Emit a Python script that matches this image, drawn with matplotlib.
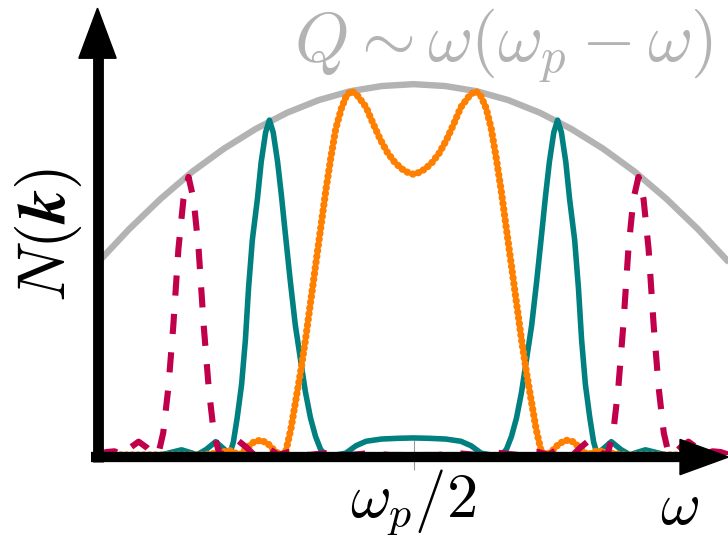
import matplotlib
matplotlib.use("Agg")
import matplotlib.pyplot as plt
from matplotlib.patches import Polygon

plt.rcParams['mathtext.fontset'] = 'cm'

# omega in units of omega_p, N(k) normalised to the top of Q
q_x = [0.0, 0.05, 0.1, 0.15, 0.2, 0.25, 0.3, 0.35, 0.4, 0.45, 0.5,
       0.55, 0.6, 0.65, 0.7, 0.75, 0.8, 0.85, 0.9, 0.95, 1.0]
q_y = [0.518, 0.609, 0.691, 0.764, 0.826, 0.879, 0.923, 0.957, 0.981, 0.995, 1.0,
       0.995, 0.981, 0.957, 0.923, 0.879, 0.826, 0.764, 0.691, 0.609, 0.518]

# narrow pair (dashed crimson)
red_x = [0.0, 0.014, 0.027, 0.040, 0.052, 0.065, 0.078, 0.089, 0.097, 0.104,
         0.112, 0.120, 0.128, 0.136, 0.144, 0.152, 0.160, 0.168, 0.176, 0.184,
         0.192, 0.199, 0.210, 0.223, 0.236, 0.248, 0.261, 0.274, 0.286, 0.302,
         0.318, 0.334, 0.367, 0.399, 0.430, 0.462, 0.5,
         0.538, 0.570, 0.601, 0.633, 0.666, 0.682, 0.698, 0.714, 0.726, 0.739,
         0.752, 0.764, 0.777, 0.790, 0.801, 0.808, 0.816, 0.824, 0.832, 0.840,
         0.848, 0.856, 0.864, 0.872, 0.880, 0.888, 0.896, 0.903, 0.911, 0.922,
         0.935, 0.948, 0.960, 0.973, 0.986, 1.0]
red_y = [0.0, 0.008, 0.010, 0.0, 0.020, 0.036, 0.020, 0.0, 0.008, 0.060,
         0.180, 0.350, 0.555, 0.690, 0.750, 0.690, 0.555, 0.350, 0.180, 0.060,
         0.008, 0.0, 0.020, 0.038, 0.020, 0.0, 0.012, 0.014, 0.0, 0.008,
         0.009, 0.0, 0.006, 0.0, 0.005, 0.0, 0.0,
         0.0, 0.005, 0.0, 0.006, 0.0, 0.009, 0.008, 0.0, 0.014, 0.012,
         0.0, 0.020, 0.038, 0.020, 0.0, 0.008, 0.060, 0.180, 0.350, 0.555,
         0.690, 0.750, 0.690, 0.555, 0.350, 0.180, 0.060, 0.008, 0.0, 0.020,
         0.036, 0.020, 0.0, 0.010, 0.008, 0.0]

# medium pair with plateau (solid teal)
teal_x = [0.0, 0.100, 0.114, 0.133, 0.150, 0.157, 0.172, 0.187, 0.201, 0.209,
          0.215, 0.221, 0.228, 0.234, 0.239, 0.245, 0.253, 0.259, 0.266, 0.272,
          0.278, 0.285, 0.291, 0.297, 0.305, 0.313, 0.321, 0.329, 0.337, 0.345,
          0.353, 0.361, 0.377, 0.393, 0.409, 0.425, 0.449, 0.475, 0.5,
          0.525, 0.551, 0.575, 0.591, 0.607, 0.623, 0.639, 0.647, 0.655, 0.663,
          0.671, 0.679, 0.687, 0.695, 0.703, 0.709, 0.715, 0.722, 0.728, 0.734,
          0.741, 0.747, 0.755, 0.761, 0.766, 0.772, 0.779, 0.785, 0.791, 0.799,
          0.813, 0.828, 0.843, 0.850, 0.867, 0.886, 0.900, 1.0]
teal_y = [0.0, 0.0, 0.006, 0.014, 0.005, 0.0, 0.015, 0.036, 0.015, 0.0,
          0.035, 0.10, 0.19, 0.31, 0.45, 0.58, 0.69, 0.79, 0.87, 0.903,
          0.87, 0.79, 0.70, 0.60, 0.47, 0.35, 0.26, 0.17, 0.10, 0.05,
          0.015, 0.0, 0.0, 0.005, 0.025, 0.037, 0.043, 0.045, 0.046,
          0.045, 0.043, 0.037, 0.025, 0.005, 0.0, 0.0, 0.015, 0.05, 0.10,
          0.17, 0.26, 0.35, 0.47, 0.60, 0.70, 0.79, 0.87, 0.903, 0.87,
          0.79, 0.69, 0.58, 0.45, 0.31, 0.19, 0.10, 0.035, 0.0, 0.015,
          0.036, 0.015, 0.0, 0.005, 0.014, 0.006, 0.0, 0.0]

# broad double-humped line (dotted orange)
orange_x = [0.0, 0.165, 0.189, 0.209, 0.225, 0.237, 0.248, 0.259, 0.270, 0.281,
            0.290, 0.298, 0.306, 0.313, 0.321, 0.329, 0.337, 0.345, 0.353, 0.361,
            0.369, 0.377, 0.386, 0.394, 0.402, 0.411, 0.425, 0.437, 0.448, 0.459,
            0.470, 0.481, 0.491, 0.5,
            0.509, 0.519, 0.530, 0.541, 0.552, 0.563, 0.575, 0.589, 0.598, 0.606,
            0.615, 0.623, 0.631, 0.639, 0.647, 0.655, 0.663, 0.671, 0.679, 0.687,
            0.694, 0.702, 0.710, 0.719, 0.730, 0.741, 0.752, 0.763, 0.775, 0.791,
            0.811, 0.835, 1.0]
orange_y = [0.0, 0.0, 0.005, 0.012, 0.0, 0.020, 0.036, 0.040, 0.030, 0.010,
            0.0, 0.010, 0.070, 0.140, 0.220, 0.310, 0.410, 0.510, 0.610, 0.710,
            0.800, 0.880, 0.935, 0.970, 0.982, 0.970, 0.938, 0.890, 0.849, 0.815,
            0.790, 0.772, 0.762, 0.757,
            0.762, 0.772, 0.790, 0.815, 0.849, 0.890, 0.938, 0.970, 0.982, 0.970,
            0.935, 0.880, 0.800, 0.710, 0.610, 0.510, 0.410, 0.310, 0.220, 0.140,
            0.070, 0.010, 0.0, 0.010, 0.030, 0.040, 0.036, 0.020, 0.0, 0.012,
            0.005, 0.0, 0.0]

q_label = r'$Q\sim\omega(\omega_p-\omega)$'
y_label = r'$N(\boldsymbol{k})$'
tick_label = r'$\omega_p/2$'
x_label = r'$\omega$'

fig = plt.figure(figsize=(7.28, 5.38), dpi=100)
ax = fig.add_axes([97.5 / 728, 83 / 538, 632 / 728, 445 / 538])
ax.set_xlim(0, 1)
ax.set_ylim(0, 1.2)
for s in ax.spines.values():
    s.set_visible(False)
ax.set_yticks([])
ax.set_xticks([0.5], labels=[''])
ax.tick_params(axis='x', direction='inout', length=22, width=0.8, color='#999999')

ax.plot(q_x, q_y, color='#b3b3b3', lw=4.6, solid_capstyle='butt', zorder=1)
ax.plot(teal_x, teal_y, color='#008080', lw=4.0, zorder=2)
ax.plot(orange_x, orange_y, color='#ff8000', lw=5.2, dashes=(0.05, 0.75),
        dash_capstyle='round', zorder=3)
ax.plot(red_x, red_y, color='#c0004a', lw=4.4, dashes=(3.3, 3.0),
        dash_capstyle='butt', zorder=4)

# axes drawn as thick arrows
ax.plot([0, 0], [-0.019, 1.075], color='k', lw=7.8, solid_capstyle='butt',
        clip_on=False, zorder=10)
ax.plot([-0.0103, 0.925], [-0.0054, -0.0054], color='k', lw=7.4,
        solid_capstyle='butt', clip_on=False, zorder=10)
ax.add_patch(Polygon([[-0.0295, 1.07], [0.0295, 1.07], [0.0, 1.205]],
                     closed=True, color='k', clip_on=False, zorder=11))
ax.add_patch(Polygon([[0.9217, 0.042], [0.9217, -0.053], [0.9984, -0.0054]],
                     closed=True, color='k', clip_on=False, zorder=11))

fig.text(713 / 728, 1 - 62 / 538, q_label, ha='right', va='baseline',
         fontsize=50, color='#b3b3b3')
fig.text(65 / 728, 1 - 235 / 538, y_label, rotation=90, rotation_mode='anchor',
         ha='center', va='baseline', fontsize=48)
fig.text(413 / 728, 1 - 517 / 538, tick_label, ha='center', va='baseline',
         fontsize=45)
fig.text(679 / 728, 1 - 524 / 538, x_label, ha='center', va='baseline',
         fontsize=44)

fig.savefig('out.png', dpi=100)
